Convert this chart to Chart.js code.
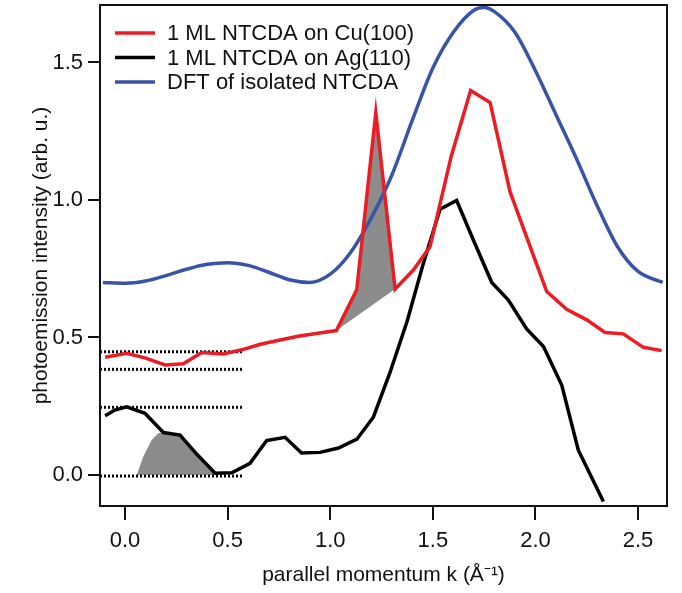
<!DOCTYPE html>
<html>
<head>
<meta charset="utf-8">
<script src="https://cdn.jsdelivr.net/npm/chart.js@4.4.1/dist/chart.umd.min.js"></script>
<style>
  html, body { margin: 0; padding: 0; background: #fff; }
</style>
</head>
<body>
<canvas id="chart" width="682" height="593"></canvas>
<script>
// series: parallel momentum k (1/A) and photoemission intensity (arb. u.)
const cuK = [-0.097, 0.008, 0.10, 0.195, 0.284, 0.374, 0.479, 0.569, 0.66, 0.75, 0.85, 0.94, 1.03, 1.129, 1.222, 1.316, 1.405, 1.486, 1.59, 1.684, 1.779, 1.876, 1.974, 2.055, 2.152, 2.25, 2.339, 2.428, 2.526, 2.615];
const cuI = [0.428, 0.442, 0.425, 0.40, 0.404, 0.445, 0.44, 0.455, 0.475, 0.49, 0.505, 0.515, 0.525, 0.673, 1.317, 0.676, 0.745, 0.83, 1.16, 1.398, 1.354, 1.03, 0.83, 0.667, 0.602, 0.564, 0.518, 0.513, 0.464, 0.452];

const agK = [-0.097, -0.05, 0.008, 0.097, 0.187, 0.268, 0.35, 0.439, 0.52, 0.609, 0.69, 0.78, 0.86, 0.95, 1.04, 1.13, 1.21, 1.29, 1.375, 1.45, 1.535, 1.616, 1.70, 1.787, 1.868, 1.957, 2.039, 2.128, 2.209, 2.331];
const agI = [0.215, 0.236, 0.248, 0.224, 0.154, 0.145, 0.075, 0.006, 0.008, 0.042, 0.125, 0.137, 0.08, 0.082, 0.098, 0.13, 0.21, 0.37, 0.56, 0.76, 0.966, 0.998, 0.85, 0.70, 0.636, 0.531, 0.467, 0.327, 0.09, -0.097];

const dftK = [-0.107, 0.0, 0.1, 0.2, 0.3, 0.4, 0.5, 0.6, 0.7, 0.8, 0.9, 1.0, 1.1, 1.2, 1.3, 1.4, 1.5, 1.6, 1.7, 1.75, 1.8, 1.9, 2.0, 2.1, 2.2, 2.3, 2.4, 2.5, 2.62];
const dftI = [0.70, 0.697, 0.705, 0.725, 0.748, 0.766, 0.772, 0.762, 0.737, 0.71, 0.70, 0.73, 0.81, 0.935, 1.09, 1.29, 1.48, 1.61, 1.69, 1.70, 1.685, 1.61, 1.47, 1.31, 1.15, 0.98, 0.83, 0.74, 0.70];

// shaded areas
const cuShadeK = [1.03, 1.129, 1.222, 1.316, 1.03];
const cuShadeI = [0.525, 0.673, 1.317, 0.676, 0.525];
const agShadeK = [0.057, 0.089, 0.13, 0.162, 0.187, 0.268, 0.439, 0.45];
const agShadeI = [0.0, 0.067, 0.127, 0.152, 0.154, 0.145, 0.006, 0.0];

// dotted reference levels
const refLevels = [0.448, 0.384, 0.246, -0.004];
const refStartK = -0.122;
const refEndK = 0.57;

const seriesNames = ["1 ML NTCDA on Cu(100)", "1 ML NTCDA on Ag(110)", "DFT of isolated NTCDA"];
const seriesColors = ["#ec1c24", "#000000", "#3a54a5"];

const xTickValues = [0.0, 0.5, 1.0, 1.5, 2.0, 2.5];
const yTickValues = [0.0, 0.5, 1.0, 1.5];

const FONT = '"Liberation Sans", Arial, Helvetica, sans-serif';
const pts = (xs, ys) => xs.map((x, i) => ({ x: x, y: ys[i] }));

const datasets = [
  {
    data: pts(cuShadeK, cuShadeI), showLine: true, fill: "shape",
    backgroundColor: "#8c8c8c", borderWidth: 0, pointRadius: 0, order: 6
  },
  {
    data: pts(agShadeK, agShadeI), showLine: true, fill: "origin",
    backgroundColor: "#8c8c8c", borderWidth: 0, pointRadius: 0, order: 6
  }
];

refLevels.forEach(v => {
  datasets.push({
    data: [{ x: refStartK, y: v }, { x: refEndK, y: v }],
    showLine: true, borderColor: "#000", borderWidth: 3, borderDash: [2, 2],
    pointRadius: 0, fill: false, order: 4
  });
});

datasets.push(
  {
    label: seriesNames[2], data: pts(dftK, dftI), showLine: true,
    borderColor: seriesColors[2], borderWidth: 3.5, pointRadius: 0,
    cubicInterpolationMode: "monotone", fill: false, order: 3
  },
  {
    label: seriesNames[1], data: pts(agK, agI), showLine: true,
    borderColor: seriesColors[1], borderWidth: 3.5, pointRadius: 0,
    tension: 0, fill: false, order: 2
  },
  {
    label: seriesNames[0], data: pts(cuK, cuI), showLine: true,
    borderColor: seriesColors[0], borderWidth: 3.5, pointRadius: 0,
    tension: 0, fill: false, order: 1
  }
);

// frame round the plot area
const framePlugin = {
  id: "frame",
  afterDatasetsDraw(chart) {
    const { ctx, chartArea: a } = chart;
    ctx.save();
    ctx.strokeStyle = "#111";
    ctx.lineWidth = 2;
    ctx.strokeRect(a.left, a.top, a.right - a.left, a.bottom - a.top);
    ctx.restore();
  }
};

// legend inside the top left corner
const legendPlugin = {
  id: "insideLegend",
  afterDatasetsDraw(chart) {
    const { ctx, chartArea: a } = chart;
    ctx.save();
    ctx.font = "22px " + FONT;
    ctx.textBaseline = "middle";
    seriesNames.forEach((name, i) => {
      const y = a.top + 28 + i * 24.5;
      ctx.strokeStyle = seriesColors[i];
      ctx.lineWidth = 3.5;
      ctx.beginPath();
      ctx.moveTo(a.left + 15, y);
      ctx.lineTo(a.left + 55, y);
      ctx.stroke();
      ctx.fillStyle = "#111";
      ctx.fillText(name, a.left + 67, y + 1);
    });
    ctx.restore();
  }
};

new Chart(document.getElementById("chart"), {
  type: "scatter",
  data: { datasets: datasets },
  plugins: [framePlugin, legendPlugin],
  options: {
    responsive: false,
    animation: false,
    layout: { padding: { top: 5, right: 15, left: 0, bottom: 0 } },
    plugins: { legend: { display: false }, tooltip: { enabled: false } },
    scales: {
      x: {
        type: "linear", min: -0.122, max: 2.641,
        afterFit(scale) {
          scale.height = 87;
          scale.paddingLeft = 0;
          scale.paddingRight = 0;
        },
        afterBuildTicks(scale) { scale.ticks = xTickValues.map(v => ({ value: v })); },
        grid: { drawOnChartArea: false, drawTicks: true, tickLength: 14, color: "#111", lineWidth: 2 },
        border: { display: false },
        ticks: {
          color: "#111", padding: 8, maxRotation: 0,
          font: { family: FONT, size: 22 },
          callback: v => v.toFixed(1)
        },
        title: {
          display: true, text: "parallel momentum k (Å⁻¹)", color: "#111",
          font: { family: FONT, size: 21 }, padding: { top: 0, bottom: 5 }
        }
      },
      y: {
        type: "linear", min: -0.113, max: 1.709,
        afterFit(scale) {
          scale.width = 100;
          scale.paddingTop = 0;
          scale.paddingBottom = 0;
        },
        afterBuildTicks(scale) { scale.ticks = yTickValues.map(v => ({ value: v })); },
        grid: { drawOnChartArea: false, drawTicks: true, tickLength: 12, color: "#111", lineWidth: 2 },
        border: { display: false },
        ticks: {
          color: "#111", padding: 5,
          font: { family: FONT, size: 22 },
          callback: v => v.toFixed(1)
        },
        title: {
          display: true, text: "photoemission intensity (arb. u.)", color: "#111",
          font: { family: FONT, size: 21 }, padding: { top: 29, bottom: 0 }
        }
      }
    }
  }
});
</script>
</body>
</html>
